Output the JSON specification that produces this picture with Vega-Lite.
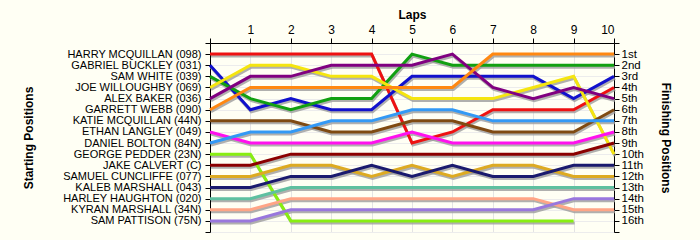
{
  "$schema": "https://vega.github.io/schema/vega-lite/v6.json",
  "width": 404,
  "height": 189,
  "autosize": {"type": "none"},
  "padding": {"left": 210, "top": 43, "right": 86, "bottom": 8},
  "background": "#FFFFF4",
  "config": {
    "view": {"stroke": null},
    "font": "Liberation Sans",
    "axis": {
      "domainColor": "#000000", "tickColor": "#000000", "tickSize": 5,
      "labelColor": "#000000", "labelFont": "Liberation Sans", "labelFontSize": 11,
      "titleFont": "Liberation Sans", "titleFontSize": 12, "titleFontWeight": "bold", "titleColor": "#000000",
      "gridColor": "#E4E4E4", "gridWidth": 1, "labelOverlap": false
    }
  },
  "data": {"values": [
    {"driver":"HARRY MCQUILLAN (098)","lap":0,"pos":1},{"driver":"HARRY MCQUILLAN (098)","lap":1,"pos":1},{"driver":"HARRY MCQUILLAN (098)","lap":2,"pos":1},{"driver":"HARRY MCQUILLAN (098)","lap":3,"pos":1},{"driver":"HARRY MCQUILLAN (098)","lap":4,"pos":1},{"driver":"HARRY MCQUILLAN (098)","lap":5,"pos":9},{"driver":"HARRY MCQUILLAN (098)","lap":6,"pos":8},{"driver":"HARRY MCQUILLAN (098)","lap":7,"pos":6},{"driver":"HARRY MCQUILLAN (098)","lap":8,"pos":6},{"driver":"HARRY MCQUILLAN (098)","lap":9,"pos":6},{"driver":"HARRY MCQUILLAN (098)","lap":10,"pos":4},
    {"driver":"GABRIEL BUCKLEY (031)","lap":0,"pos":2},{"driver":"GABRIEL BUCKLEY (031)","lap":1,"pos":6},{"driver":"GABRIEL BUCKLEY (031)","lap":2,"pos":5},{"driver":"GABRIEL BUCKLEY (031)","lap":3,"pos":6},{"driver":"GABRIEL BUCKLEY (031)","lap":4,"pos":6},{"driver":"GABRIEL BUCKLEY (031)","lap":5,"pos":3},{"driver":"GABRIEL BUCKLEY (031)","lap":6,"pos":3},{"driver":"GABRIEL BUCKLEY (031)","lap":7,"pos":3},{"driver":"GABRIEL BUCKLEY (031)","lap":8,"pos":3},{"driver":"GABRIEL BUCKLEY (031)","lap":9,"pos":5},{"driver":"GABRIEL BUCKLEY (031)","lap":10,"pos":3},
    {"driver":"SAM WHITE (039)","lap":0,"pos":3},{"driver":"SAM WHITE (039)","lap":1,"pos":5},{"driver":"SAM WHITE (039)","lap":2,"pos":6},{"driver":"SAM WHITE (039)","lap":3,"pos":5},{"driver":"SAM WHITE (039)","lap":4,"pos":5},{"driver":"SAM WHITE (039)","lap":5,"pos":1},{"driver":"SAM WHITE (039)","lap":6,"pos":2},{"driver":"SAM WHITE (039)","lap":7,"pos":2},{"driver":"SAM WHITE (039)","lap":8,"pos":2},{"driver":"SAM WHITE (039)","lap":9,"pos":2},{"driver":"SAM WHITE (039)","lap":10,"pos":2},
    {"driver":"JOE WILLOUGHBY (069)","lap":0,"pos":4},{"driver":"JOE WILLOUGHBY (069)","lap":1,"pos":2},{"driver":"JOE WILLOUGHBY (069)","lap":2,"pos":2},{"driver":"JOE WILLOUGHBY (069)","lap":3,"pos":3},{"driver":"JOE WILLOUGHBY (069)","lap":4,"pos":3},{"driver":"JOE WILLOUGHBY (069)","lap":5,"pos":5},{"driver":"JOE WILLOUGHBY (069)","lap":6,"pos":5},{"driver":"JOE WILLOUGHBY (069)","lap":7,"pos":5},{"driver":"JOE WILLOUGHBY (069)","lap":8,"pos":4},{"driver":"JOE WILLOUGHBY (069)","lap":9,"pos":3},{"driver":"JOE WILLOUGHBY (069)","lap":10,"pos":10},
    {"driver":"ALEX BAKER (036)","lap":0,"pos":5},{"driver":"ALEX BAKER (036)","lap":1,"pos":3},{"driver":"ALEX BAKER (036)","lap":2,"pos":3},{"driver":"ALEX BAKER (036)","lap":3,"pos":2},{"driver":"ALEX BAKER (036)","lap":4,"pos":2},{"driver":"ALEX BAKER (036)","lap":5,"pos":2},{"driver":"ALEX BAKER (036)","lap":6,"pos":1},{"driver":"ALEX BAKER (036)","lap":7,"pos":4},{"driver":"ALEX BAKER (036)","lap":8,"pos":5},{"driver":"ALEX BAKER (036)","lap":9,"pos":4},{"driver":"ALEX BAKER (036)","lap":10,"pos":5},
    {"driver":"GARRETT WEBB (090)","lap":0,"pos":6},{"driver":"GARRETT WEBB (090)","lap":1,"pos":4},{"driver":"GARRETT WEBB (090)","lap":2,"pos":4},{"driver":"GARRETT WEBB (090)","lap":3,"pos":4},{"driver":"GARRETT WEBB (090)","lap":4,"pos":4},{"driver":"GARRETT WEBB (090)","lap":5,"pos":4},{"driver":"GARRETT WEBB (090)","lap":6,"pos":4},{"driver":"GARRETT WEBB (090)","lap":7,"pos":1},{"driver":"GARRETT WEBB (090)","lap":8,"pos":1},{"driver":"GARRETT WEBB (090)","lap":9,"pos":1},{"driver":"GARRETT WEBB (090)","lap":10,"pos":1},
    {"driver":"KATIE MCQUILLAN (44N)","lap":0,"pos":7},{"driver":"KATIE MCQUILLAN (44N)","lap":1,"pos":7},{"driver":"KATIE MCQUILLAN (44N)","lap":2,"pos":7},{"driver":"KATIE MCQUILLAN (44N)","lap":3,"pos":8},{"driver":"KATIE MCQUILLAN (44N)","lap":4,"pos":8},{"driver":"KATIE MCQUILLAN (44N)","lap":5,"pos":7},{"driver":"KATIE MCQUILLAN (44N)","lap":6,"pos":7},{"driver":"KATIE MCQUILLAN (44N)","lap":7,"pos":8},{"driver":"KATIE MCQUILLAN (44N)","lap":8,"pos":8},{"driver":"KATIE MCQUILLAN (44N)","lap":9,"pos":8},{"driver":"KATIE MCQUILLAN (44N)","lap":10,"pos":6},
    {"driver":"ETHAN LANGLEY (049)","lap":0,"pos":8},{"driver":"ETHAN LANGLEY (049)","lap":1,"pos":9},{"driver":"ETHAN LANGLEY (049)","lap":2,"pos":9},{"driver":"ETHAN LANGLEY (049)","lap":3,"pos":9},{"driver":"ETHAN LANGLEY (049)","lap":4,"pos":9},{"driver":"ETHAN LANGLEY (049)","lap":5,"pos":8},{"driver":"ETHAN LANGLEY (049)","lap":6,"pos":9},{"driver":"ETHAN LANGLEY (049)","lap":7,"pos":9},{"driver":"ETHAN LANGLEY (049)","lap":8,"pos":9},{"driver":"ETHAN LANGLEY (049)","lap":9,"pos":9},{"driver":"ETHAN LANGLEY (049)","lap":10,"pos":8},
    {"driver":"DANIEL BOLTON (84N)","lap":0,"pos":9},{"driver":"DANIEL BOLTON (84N)","lap":1,"pos":8},{"driver":"DANIEL BOLTON (84N)","lap":2,"pos":8},{"driver":"DANIEL BOLTON (84N)","lap":3,"pos":7},{"driver":"DANIEL BOLTON (84N)","lap":4,"pos":7},{"driver":"DANIEL BOLTON (84N)","lap":5,"pos":6},{"driver":"DANIEL BOLTON (84N)","lap":6,"pos":6},{"driver":"DANIEL BOLTON (84N)","lap":7,"pos":7},{"driver":"DANIEL BOLTON (84N)","lap":8,"pos":7},{"driver":"DANIEL BOLTON (84N)","lap":9,"pos":7},{"driver":"DANIEL BOLTON (84N)","lap":10,"pos":7},
    {"driver":"GEORGE PEDDER (23N)","lap":0,"pos":10},{"driver":"GEORGE PEDDER (23N)","lap":1,"pos":10},{"driver":"GEORGE PEDDER (23N)","lap":2,"pos":16},{"driver":"GEORGE PEDDER (23N)","lap":3,"pos":16},{"driver":"GEORGE PEDDER (23N)","lap":4,"pos":16},{"driver":"GEORGE PEDDER (23N)","lap":5,"pos":16},{"driver":"GEORGE PEDDER (23N)","lap":6,"pos":16},{"driver":"GEORGE PEDDER (23N)","lap":7,"pos":16},{"driver":"GEORGE PEDDER (23N)","lap":8,"pos":16},{"driver":"GEORGE PEDDER (23N)","lap":9,"pos":16},
    {"driver":"JAKE CALVERT (C)","lap":0,"pos":11},{"driver":"JAKE CALVERT (C)","lap":1,"pos":11},{"driver":"JAKE CALVERT (C)","lap":2,"pos":10},{"driver":"JAKE CALVERT (C)","lap":3,"pos":10},{"driver":"JAKE CALVERT (C)","lap":4,"pos":10},{"driver":"JAKE CALVERT (C)","lap":5,"pos":10},{"driver":"JAKE CALVERT (C)","lap":6,"pos":10},{"driver":"JAKE CALVERT (C)","lap":7,"pos":10},{"driver":"JAKE CALVERT (C)","lap":8,"pos":10},{"driver":"JAKE CALVERT (C)","lap":9,"pos":10},{"driver":"JAKE CALVERT (C)","lap":10,"pos":9},
    {"driver":"SAMUEL CUNCLIFFE (077)","lap":0,"pos":12},{"driver":"SAMUEL CUNCLIFFE (077)","lap":1,"pos":12},{"driver":"SAMUEL CUNCLIFFE (077)","lap":2,"pos":11},{"driver":"SAMUEL CUNCLIFFE (077)","lap":3,"pos":11},{"driver":"SAMUEL CUNCLIFFE (077)","lap":4,"pos":12},{"driver":"SAMUEL CUNCLIFFE (077)","lap":5,"pos":11},{"driver":"SAMUEL CUNCLIFFE (077)","lap":6,"pos":12},{"driver":"SAMUEL CUNCLIFFE (077)","lap":7,"pos":11},{"driver":"SAMUEL CUNCLIFFE (077)","lap":8,"pos":11},{"driver":"SAMUEL CUNCLIFFE (077)","lap":9,"pos":12},{"driver":"SAMUEL CUNCLIFFE (077)","lap":10,"pos":12},
    {"driver":"KALEB MARSHALL (043)","lap":0,"pos":13},{"driver":"KALEB MARSHALL (043)","lap":1,"pos":13},{"driver":"KALEB MARSHALL (043)","lap":2,"pos":12},{"driver":"KALEB MARSHALL (043)","lap":3,"pos":12},{"driver":"KALEB MARSHALL (043)","lap":4,"pos":11},{"driver":"KALEB MARSHALL (043)","lap":5,"pos":12},{"driver":"KALEB MARSHALL (043)","lap":6,"pos":11},{"driver":"KALEB MARSHALL (043)","lap":7,"pos":12},{"driver":"KALEB MARSHALL (043)","lap":8,"pos":12},{"driver":"KALEB MARSHALL (043)","lap":9,"pos":11},{"driver":"KALEB MARSHALL (043)","lap":10,"pos":11},
    {"driver":"HARLEY HAUGHTON (020)","lap":0,"pos":14},{"driver":"HARLEY HAUGHTON (020)","lap":1,"pos":14},{"driver":"HARLEY HAUGHTON (020)","lap":2,"pos":13},{"driver":"HARLEY HAUGHTON (020)","lap":3,"pos":13},{"driver":"HARLEY HAUGHTON (020)","lap":4,"pos":13},{"driver":"HARLEY HAUGHTON (020)","lap":5,"pos":13},{"driver":"HARLEY HAUGHTON (020)","lap":6,"pos":13},{"driver":"HARLEY HAUGHTON (020)","lap":7,"pos":13},{"driver":"HARLEY HAUGHTON (020)","lap":8,"pos":13},{"driver":"HARLEY HAUGHTON (020)","lap":9,"pos":13},{"driver":"HARLEY HAUGHTON (020)","lap":10,"pos":13},
    {"driver":"KYRAN MARSHALL (34N)","lap":0,"pos":15},{"driver":"KYRAN MARSHALL (34N)","lap":1,"pos":15},{"driver":"KYRAN MARSHALL (34N)","lap":2,"pos":14},{"driver":"KYRAN MARSHALL (34N)","lap":3,"pos":14},{"driver":"KYRAN MARSHALL (34N)","lap":4,"pos":14},{"driver":"KYRAN MARSHALL (34N)","lap":5,"pos":14},{"driver":"KYRAN MARSHALL (34N)","lap":6,"pos":14},{"driver":"KYRAN MARSHALL (34N)","lap":7,"pos":14},{"driver":"KYRAN MARSHALL (34N)","lap":8,"pos":14},{"driver":"KYRAN MARSHALL (34N)","lap":9,"pos":15},{"driver":"KYRAN MARSHALL (34N)","lap":10,"pos":15},
    {"driver":"SAM PATTISON (75N)","lap":0,"pos":16},{"driver":"SAM PATTISON (75N)","lap":1,"pos":16},{"driver":"SAM PATTISON (75N)","lap":2,"pos":15},{"driver":"SAM PATTISON (75N)","lap":3,"pos":15},{"driver":"SAM PATTISON (75N)","lap":4,"pos":15},{"driver":"SAM PATTISON (75N)","lap":5,"pos":15},{"driver":"SAM PATTISON (75N)","lap":6,"pos":15},{"driver":"SAM PATTISON (75N)","lap":7,"pos":15},{"driver":"SAM PATTISON (75N)","lap":8,"pos":15},{"driver":"SAM PATTISON (75N)","lap":9,"pos":14},{"driver":"SAM PATTISON (75N)","lap":10,"pos":14}
  ]},
  "encoding": {
    "x": {
      "field": "lap", "type": "quantitative",
      "scale": {"domain": [0, 10], "nice": false, "zero": false},
      "axis": {
        "orient": "top", "title": "Laps", "values": [0,1,2,3,4,5,6,7,8,9,10],
        "labelExpr": "datum.value == 0 ? '' : datum.label", "labelPadding": 2, "labelFontSize": 12,
        "titleX": 202, "titleY": -29, "titleBaseline": "middle",
        "grid": true, "gridColor": "#E4E4E4"
      }
    }
  },
  "layer": [
    {
      "mark": {"type": "line", "color": "#9C9C9C", "strokeWidth": 3, "yOffset": 2, "xOffset": 1, "opacity": 0.8},
      "encoding": {
        "y": {
          "field": "pos", "type": "quantitative",
          "scale": {"domain": [0, 17], "reverse": true, "nice": false, "zero": false},
          "axis": {
            "orient": "left", "title": "Starting Positions", "values": [0,1,2,3,4,5,6,7,8,9,10,11,12,13,14,15,16,17],
            "labelExpr": "['', 'HARRY MCQUILLAN (098)', 'GABRIEL BUCKLEY (031)', 'SAM WHITE (039)', 'JOE WILLOUGHBY (069)', 'ALEX BAKER (036)', 'GARRETT WEBB (090)', 'KATIE MCQUILLAN (44N)', 'ETHAN LANGLEY (049)', 'DANIEL BOLTON (84N)', 'GEORGE PEDDER (23N)', 'JAKE CALVERT (C)', 'SAMUEL CUNCLIFFE (077)', 'KALEB MARSHALL (043)', 'HARLEY HAUGHTON (020)', 'KYRAN MARSHALL (34N)', 'SAM PATTISON (75N)', ''][datum.value]",
            "labelPadding": 4, "labelOverlap": false,
            "titleX": -182, "titleY": 94.5, "titleBaseline": "middle", "titleAngle": 270,
            "grid": true, "gridColor": "#ECECEC"
          }
        },
        "detail": {"field": "driver"}
      }
    },
    {
      "mark": {"type": "line", "strokeWidth": 3},
      "encoding": {
        "y": {
          "field": "pos", "type": "quantitative",
          "scale": {"domain": [0, 17], "reverse": true, "nice": false, "zero": false},
          "axis": {
            "orient": "right", "title": "Finishing Positions", "values": [0,1,2,3,4,5,6,7,8,9,10,11,12,13,14,15,16,17],
            "labelExpr": "datum.value < 1 || datum.value > 16 ? '' : datum.value + (datum.value == 1 ? 'st' : datum.value == 2 ? 'nd' : datum.value == 3 ? 'rd' : 'th')",
            "labelPadding": 2, "labelOverlap": false, "labelFontSize": 11.5,
            "titleX": 51, "titleY": 94.5, "titleBaseline": "middle", "titleAngle": 90,
            "grid": false
          }
        },
        "color": {
          "field": "driver", "type": "nominal", "legend": null,
          "scale": {
            "domain": ["HARRY MCQUILLAN (098)", "GABRIEL BUCKLEY (031)", "SAM WHITE (039)", "JOE WILLOUGHBY (069)", "ALEX BAKER (036)", "GARRETT WEBB (090)", "KATIE MCQUILLAN (44N)", "ETHAN LANGLEY (049)", "DANIEL BOLTON (84N)", "GEORGE PEDDER (23N)", "JAKE CALVERT (C)", "SAMUEL CUNCLIFFE (077)", "KALEB MARSHALL (043)", "HARLEY HAUGHTON (020)", "KYRAN MARSHALL (34N)", "SAM PATTISON (75N)"],
            "range": ["#EE1111", "#1111CC", "#11A011", "#F5E50F", "#800080", "#FF8811", "#7F4A12", "#FF11EE", "#3399F5", "#88EE11", "#8B0000", "#DDAA22", "#1A1A6E", "#5FC0A0", "#FFA586", "#9977DD"]
          }
        }
      }
    }
  ],
  "resolve": {"axis": {"y": "independent"}}
}
